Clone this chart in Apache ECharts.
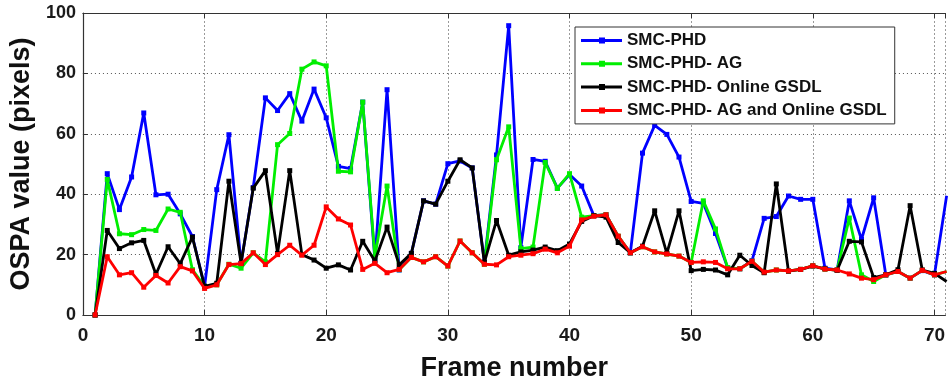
<!DOCTYPE html>
<html>
<head>
<meta charset="utf-8">
<script src="https://cdn.jsdelivr.net/npm/echarts@6/dist/echarts.min.js"></script>
<style>
html,body{margin:0;padding:0;background:#fff;}
#c{width:948px;height:387px;}
</style>
</head>
<body>
<div id="c"></div>
<script>
const frames = [1,2,3,4,5,6,7,8,9,10,11,12,13,14,15,16,17,18,19,20,21,22,23,24,25,26,27,28,29,30,31,32,33,34,35,36,37,38,39,40,41,42,43,44,45,46,47,48,49,50,51,52,53,54,55,56,57,58,59,60,61,62,63,64,65,66,67,68,69,70,71];

const smcPhd = [0,46.8,34.9,45.7,66.9,39.8,40,33.5,26,9.5,41.5,59.7,17.1,42.2,71.9,67.7,73.3,64.2,74.8,65.3,49.2,48.5,70.5,18.2,74.6,14.9,20.4,37.8,36.7,50.1,51,48.7,17.6,53,95.8,22.3,51.5,50.9,42,46.5,42.7,32.9,33.2,26,20.6,53.6,62.8,59.8,52.3,37.6,37,27,15.6,15.3,18,32,32.6,39.4,38.3,38.3,15.5,14.9,37.8,25,38.8,13.3,14.4,12.2,14.7,13.3,39.5];

const smcPhdAG = [0,44.9,26.9,26.6,28.3,28,35.1,34,15,9.5,10,16.8,15.5,20.6,17.6,56.4,60.1,81.4,83.8,82.5,47.6,47.4,70.5,19.3,42.7,15,19.1,17.6,19.3,16.2,24.5,20.6,16.8,51.4,62.3,22,22.5,50.5,41.9,46.8,32.4,32.9,33.2,26.1,20.6,22.6,20.9,20.2,19.5,17.4,37.8,28.5,15.7,15.3,17.8,14.2,14.9,14.6,15.1,16.3,15.2,14.9,32.1,13.3,11.1,13.3,14.4,12.2,14.8,13.3,14.4];

const smcPhdGSDL = [0,28,22,23.9,24.7,13.5,22.6,17,25.8,9.5,10.5,44.3,17.1,42,47.8,20.4,47.8,20,18.2,15.5,16.6,14.9,24.4,17.9,29.1,16.6,20.4,37.8,36.7,44.3,51.4,48.7,17.4,31.3,19.8,20.9,21.5,22.5,21.3,23.5,31,32.9,32.4,24,20.6,22.8,34.5,20.4,34.5,14.7,15.1,14.9,13.3,19.8,16.4,14,43.4,14.5,15.1,16.2,15.3,14.8,24.4,24.2,12.4,13.3,15,36.2,14.9,13.8,11.1];

const smcPhdAGGSDL = [0,19.3,13.3,14,9.2,13.1,10.6,16,14.6,8.8,10,16.7,17,20.6,16.7,20,23.1,19.8,23.1,35.8,31.8,29.8,15.1,17.1,14,15.1,19.1,17.6,19.3,16.2,24.5,20.6,16.8,16.6,19.3,19.8,20.3,21.8,20.6,22.8,31.5,32.7,33.2,26.1,20.6,22.6,20.9,20.2,19.5,17.4,17.6,17.4,15.3,15.3,17.8,14.2,14.9,14.6,15.1,16.3,15.2,14.9,13.6,12.2,11.7,13.3,14.4,12.2,14.8,13.3,14.4];

const seriesNames = ['SMC-PHD','SMC-PHD- AG','SMC-PHD- Online GSDL','SMC-PHD- AG and Online GSDL'];
const seriesColors = ['#0000ff','#00ee00','#000000','#ff0000'];
const seriesValues = [smcPhd, smcPhdAG, smcPhdGSDL, smcPhdAGGSDL];

const yTicks = [0,20,40,60,80,100];
const xTicks = [0,10,20,30,40,50,60,70];

const chart = echarts.init(document.getElementById('c'), null, {renderer:'canvas'});

const xMax = 70.9;
const legendIcon = 'path://M0,1.5 L41,1.5 L41,4.5 L0,4.5 Z M18,0 L24,0 L24,6 L18,6 Z';

const option = {
  animation: false,
  backgroundColor: '#ffffff',
  grid: {left: 81, right: 0, top: 13, bottom: 68, containLabel: false},
  legend: {
    show: true,
    orient: 'vertical',
    left: 575,
    top: 27,
    padding: [5, 8, 5, 6],
    backgroundColor: '#ffffff',
    borderColor: '#333333',
    borderWidth: 1,
    itemWidth: 41,
    itemHeight: 6,
    itemGap: 6.3,
    icon: legendIcon,
    textStyle: {
      fontFamily: 'Liberation Sans, Arial, sans-serif',
      fontWeight: 'bold',
      fontSize: 17,
      lineHeight: 17,
      color: '#111111'
    },
    data: seriesNames
  },
  xAxis: [{
    type: 'value',
    min: 0,
    max: xMax,
    interval: 10,
    name: 'Frame number',
    nameLocation: 'middle',
    nameGap: 40,
    nameTextStyle: {
      fontFamily: 'Liberation Sans, Arial, sans-serif',
      fontWeight: 'bold',
      fontSize: 27,
      color: '#111111'
    },
    axisLine: {show: true, onZero: false, lineStyle: {color: '#333333', width: 1.2}},
    axisTick: {show: true, inside: true, length: 5, lineStyle: {color: '#333333'}},
    axisLabel: {
      show: true,
      margin: 11,
      fontFamily: 'Liberation Sans, Arial, sans-serif',
      fontWeight: 'bold',
      fontSize: 19,
      color: '#1a1a1a',
      showMaxLabel: false,
      formatter: function (v) { return xTicks.indexOf(v) >= 0 ? String(v) : ''; }
    },
    splitLine: {show: true, lineStyle: {color: '#9a9a9a', width: 1, type: [2, 2]}}
  }, {
    type: 'value',
    position: 'top',
    min: 0,
    max: xMax,
    interval: 10,
    axisLine: {show: true, onZero: false, lineStyle: {color: '#333333', width: 1.2}},
    axisTick: {show: true, inside: true, length: 5, lineStyle: {color: '#333333'}},
    axisLabel: {show: false},
    splitLine: {show: false}
  }],
  yAxis: {
    type: 'value',
    min: 0,
    max: 100,
    interval: 20,
    name: 'OSPA value (pixels)',
    nameLocation: 'middle',
    nameGap: 44,
    nameTextStyle: {
      fontFamily: 'Liberation Sans, Arial, sans-serif',
      fontWeight: 'bold',
      fontSize: 27,
      color: '#111111'
    },
    axisLine: {show: true, lineStyle: {color: '#333333', width: 1.2}},
    axisTick: {show: true, inside: true, length: 5, lineStyle: {color: '#333333'}},
    axisLabel: {
      show: true,
      margin: 7,
      padding: [6, 0, 0, 0],
      fontFamily: 'Liberation Sans, Arial, sans-serif',
      fontWeight: 'bold',
      fontSize: 18,
      color: '#1a1a1a',
      formatter: function (v) { return yTicks.indexOf(v) >= 0 ? String(v) : ''; }
    },
    splitLine: {show: true, lineStyle: {color: '#555555', width: 1, type: [1, 3]}}
  },
  series: seriesNames.map(function (name, i) {
    return {
      name: name,
      type: 'line',
      xAxisIndex: 0,
      data: frames.map(function (f, k) { return [f, seriesValues[i][k]]; }),
      showSymbol: true,
      symbol: 'rect',
      symbolSize: 5,
      lineStyle: {color: seriesColors[i], width: 2.8},
      itemStyle: {color: seriesColors[i]},
      emphasis: {disabled: true},
      clip: true,
      z: 2 + i
    };
  })
};

chart.setOption(option);
</script>
</body>
</html>
